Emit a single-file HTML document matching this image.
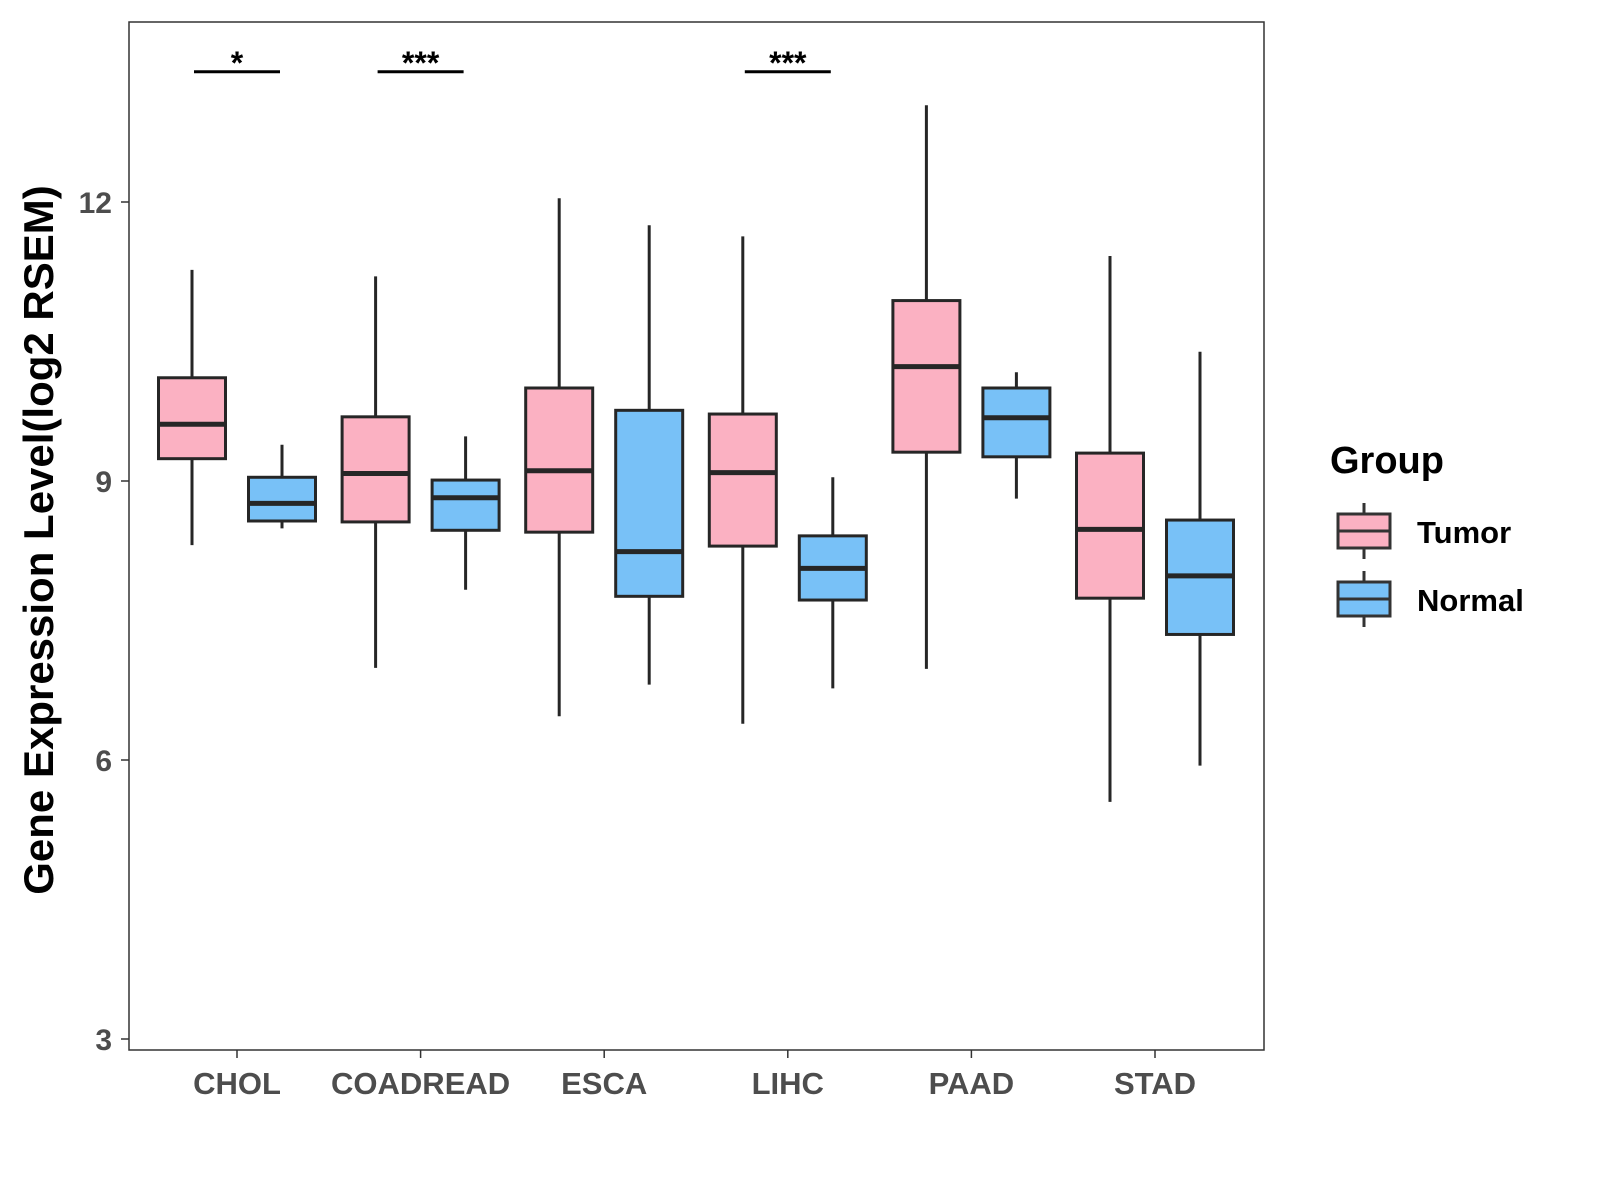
<!DOCTYPE html>
<html><head><meta charset="utf-8"><style>
html,body{margin:0;padding:0;background:#fff;}
svg{display:block;font-family:"Liberation Sans",Arial,sans-serif;}
</style></head><body>
<svg id="chart" width="1600" height="1200" viewBox="0 0 1600 1200">
<rect x="129" y="22" width="1135" height="1028" fill="#fff" stroke="#333" stroke-width="1.5"/>
<g id="marks"></g>
<g id="axes"></g>
<text transform="translate(53,540) rotate(-90)" text-anchor="middle" font-size="42" font-weight="bold" fill="#000">Gene Expression Level(log2 RSEM)</text>
<g>
<text x="1330" y="473" font-size="38" font-weight="bold">Group</text>
<g>
<line x1="1364" y1="503" x2="1364" y2="559" stroke="#333" stroke-width="3"/>
<rect x="1338" y="514" width="52" height="34" fill="#FBB1C2" stroke="#333" stroke-width="3"/>
<line x1="1338" y1="531" x2="1390" y2="531" stroke="#333" stroke-width="3"/>
<text x="1417" y="543" font-size="31" font-weight="bold">Tumor</text></g>
<g>
<line x1="1364" y1="571" x2="1364" y2="627" stroke="#333" stroke-width="3"/>
<rect x="1338" y="582" width="52" height="34" fill="#78C1F7" stroke="#333" stroke-width="3"/>
<line x1="1338" y1="599" x2="1390" y2="599" stroke="#333" stroke-width="3"/>
<text x="1417" y="611" font-size="31" font-weight="bold">Normal</text></g>
</g>
</svg>
<script>
const categories=["CHOL","COADREAD","ESCA","LIHC","PAAD","STAD"];
const tumorStats=[[8.31,9.24,9.61,10.11,11.27],[6.99,8.56,9.08,9.69,11.2],[6.47,8.45,9.11,10.0,12.04],[6.39,8.30,9.09,9.72,11.63],[6.98,9.31,10.23,10.94,13.04],[5.55,7.74,8.48,9.3,11.42]];
const normalStats=[[8.49,8.57,8.76,9.04,9.39],[7.83,8.47,8.82,9.01,9.48],[6.81,7.76,8.24,9.76,11.75],[6.77,7.72,8.06,8.41,9.04],[8.81,9.26,9.68,10.0,10.17],[5.94,7.35,7.98,8.58,10.39]];
const yTicks=[3,6,9,12];
const sigLabels=["*","***","","***","",""];
const sigY=13.4;
const NS="http://www.w3.org/2000/svg";
const y=v=>481-(v-9)*93;
const x=i=>237+i*183.6;
function mk(t,a,p){const e=document.createElementNS(NS,t);for(const k in a)e.setAttribute(k,a[k]);p.appendChild(e);return e;}
const marks=document.getElementById('marks'),axes=document.getElementById('axes');
function box(cx,s,fill,name){
 const g=mk('g',{},marks);
 
 
 mk('line',{x1:cx,x2:cx,y1:y(s[4]),y2:y(s[0]),stroke:'#262626','stroke-width':3},g);
 mk('rect',{x:cx-33.5,width:67,y:y(s[3]),height:y(s[1])-y(s[3]),fill:fill,stroke:'#262626','stroke-width':3},g);
 mk('line',{x1:cx-33.5,x2:cx+33.5,y1:y(s[2]),y2:y(s[2]),stroke:'#262626','stroke-width':5},g);
}
categories.forEach((c,i)=>{
 box(x(i)-45,tumorStats[i],'#FBB1C2','box-tumor-'+c.toLowerCase());
 box(x(i)+45,normalStats[i],'#78C1F7','box-normal-'+c.toLowerCase());
 mk('line',{x1:x(i),x2:x(i),y1:1050,y2:1058,stroke:'#333','stroke-width':1.5},axes);
 const t=mk('text',{x:x(i),y:1094,'text-anchor':'middle','font-size':31,'font-weight':'bold',fill:'#4d4d4d'},axes);
 t.textContent=c;
 
 
 if(sigLabels[i]){
  const g=mk('g',{},marks);
  
  
  mk('line',{x1:x(i)-43,x2:x(i)+43,y1:y(sigY),y2:y(sigY),stroke:'#000','stroke-width':3},g);
  const s=mk('text',{x:x(i),y:y(sigY)+2,'text-anchor':'middle','font-size':32,'font-weight':'bold'},g);
  s.textContent=sigLabels[i];
 }
});
yTicks.forEach(v=>{
 mk('line',{x1:121,x2:129,y1:y(v),y2:y(v),stroke:'#333','stroke-width':1.5},axes);
 const t=mk('text',{x:112,y:y(v)+11,'text-anchor':'end','font-size':30,'font-weight':'bold',fill:'#4d4d4d'},axes);
 t.textContent=v;
 
 
});
</script>
</body></html>
